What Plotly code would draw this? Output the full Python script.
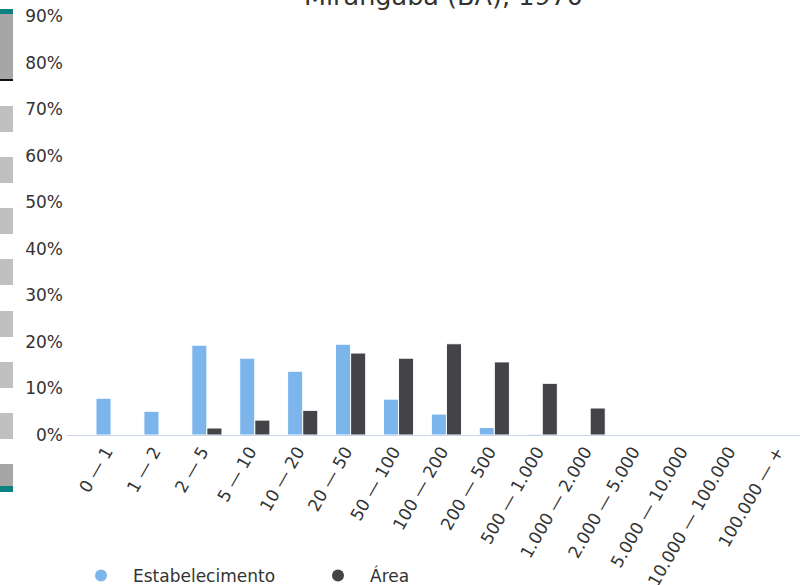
import plotly.graph_objects as go

categories = ["0 — 1", "1 — 2", "2 — 5", "5 — 10", "10 — 20", "20 — 50", "50 — 100",
              "100 — 200", "200 — 500", "500 — 1.000", "1.000 — 2.000", "2.000 — 5.000",
              "5.000 — 10.000", "10.000 — 100.000", "100.000 — +"]
estabelecimento = [7.9, 5.1, 19.3, 16.5, 13.7, 19.5, 7.7, 4.5, 1.6, 0.2, 0, 0, 0, 0, 0]
area = [0, 0, 1.5, 3.2, 5.3, 17.6, 16.5, 19.6, 15.7, 11.1, 5.8, 0, 0, 0, 0]
title_text = "Mirangaba (BA), 1970"

BLUE = "#7cb5ec"
DARK = "#434348"
W, H = 800, 585
L, R, T, B = 67, 0, 16, 150
PW, PH = W - L - R, H - T - B

def px_x(p):
    return (p - L) / PW

def px_y(p):
    return (H - B - p) / PH

fig = go.Figure()
fig.add_trace(go.Bar(x=categories, y=[v if v > 0 else None for v in estabelecimento],
                     name="Estabelecimento", marker=dict(color=BLUE, line=dict(color="white", width=1)),
                     showlegend=False))
fig.add_trace(go.Bar(x=categories, y=[v if v > 0 else None for v in area],
                     name="Área", marker=dict(color=DARK, line=dict(color="white", width=1)),
                     showlegend=False))
# legend entries with circle symbols
fig.add_trace(go.Scatter(x=[None], y=[None], mode="markers", name="Estabelecimento",
                         marker=dict(color=BLUE, size=12, symbol="circle")))
fig.add_trace(go.Scatter(x=[None], y=[None], mode="markers", name="Área",
                         marker=dict(color=DARK, size=12, symbol="circle")))

# decorative vertical scrollbar at the left edge
shapes = []
def rect(y0, y1, color):
    shapes.append(dict(type="rect", xref="paper", yref="paper", x0=px_x(0), x1=px_x(13),
                       y0=px_y(y1), y1=px_y(y0), fillcolor=color, line=dict(width=0), layer="above"))
rect(9, 16, "#0d8080")
rect(14, 80, "#a6a6a6")
rect(79, 81, "#111111")
for y0 in [106, 157, 208, 259, 311, 362, 413]:
    rect(y0, y0 + 26, "#c0c0c0")
rect(464, 488, "#a6a6a6")
rect(486, 492, "#0d8080")

fig.update_layout(
    width=W, height=H,
    margin=dict(l=L, r=R, t=T, b=B, autoexpand=False),
    paper_bgcolor="white", plot_bgcolor="white",
    font=dict(family="DejaVu Sans", color="#333333", size=17),
    barmode="group", bargap=0.37, bargroupgap=0,
    shapes=shapes,
    showlegend=True,
    legend=dict(orientation="h", x=px_x(69), xanchor="left", y=px_y(576), yanchor="middle",
                font=dict(size=17, color="#333333"), entrywidth=168, entrywidthmode="pixels",
                itemwidth=54, itemsizing="constant"),
    annotations=[dict(text=title_text, xref="paper", yref="paper", x=px_x(443), y=1 + 3 / PH,
                      xanchor="center", yanchor="bottom", showarrow=False,
                      font=dict(size=25.5, color="#333333"))],
)
fig.update_xaxes(type="category", range=[-0.92, 14.38], showline=True, linecolor="#ccd6eb",
                 linewidth=1, showgrid=False, ticks="", tickangle=-60, zeroline=False,
                 automargin=False, ticklabelshift=-5, ticklabelstandoff=-1,
                 tickfont=dict(size=17, color="#333333"))
fig.update_yaxes(range=[0, 90], tick0=0, dtick=10, ticksuffix="%", showgrid=False, zeroline=False,
                 showline=False, ticks="", automargin=False, ticklabelstandoff=3,
                 tickfont=dict(size=17, color="#333333"))

fig.write_html("out.html", config={"displayModeBar": False},
               post_script="document.body.style.margin='0';document.body.style.overflow='hidden';")
